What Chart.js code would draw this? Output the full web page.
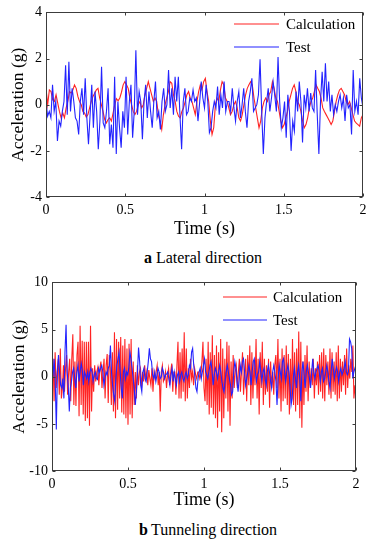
<!DOCTYPE html>
<html><head><meta charset="utf-8">
<script src="https://cdn.jsdelivr.net/npm/chart.js@4/dist/chart.umd.min.js"></script>
<style>
html,body{margin:0;padding:0;background:#fff;}
body{width:373px;height:543px;position:relative;overflow:hidden;font-family:'Liberation Serif','Times New Roman',serif;}
canvas{position:absolute;left:0;}
.cap{position:absolute;font-size:16px;color:#000;white-space:nowrap;transform:translate(-50%,-50%);}
</style></head><body>
<canvas id="c1" width="373" height="240" style="top:0;width:373px;height:240px"></canvas>
<div class="cap" style="left:203px;top:258px"><b>a</b> Lateral direction</div>
<canvas id="c2" width="373" height="243" style="top:270px;width:373px;height:243px"></canvas>
<div class="cap" style="left:208px;top:530px"><b>b</b>&#8201;Tunneling direction</div>
<script>
const timeSpan = [0, 2];
const xTickValues = [0, 0.5, 1, 1.5, 2];
const yTicksLateral = [-4, -2, 0, 2, 4];
const yTicksTunnel = [-10, -5, 0, 5, 10];
const seriesNames = ['Calculation', 'Test'];
const xTitle = 'Time (s)';
const yTitle = 'Acceleration (g)';

const lateralCalc = [0.71,0,0.64,0.57,0.21,0.14,0.43,0.07,-0.29,-0.57,-0.36,-0.57,-0.14,0.14,0.57,0.5,0.64,0.86,0.71,0.36,
0.14,0,-0.29,-0.36,-0.54,-0.43,-0.14,0.14,0.36,0.5,0.64,0.71,0.29,0,-0.29,-0.64,-0.79,-0.64,-0.57,-0.71,
-0.36,0,0.26,0.17,0.29,0.54,0.86,1.0,0.86,
0.71,0.29,0,-0.29,-0.43,-0.29,0,0.14,-0.14,0,0.43,0.71,1.0,0.71,0.43,0.14,0.29,0.14,-0.43,-0.71,
-1.07,-0.43,0,0.29,0.57,1.0,0.93,0.43,0.14,-0.29,-0.5,-0.57,-0.29,-0.14,0.14,0.43,0.57,0.29,0.14,-0.14,
-0.43,0.14,0.57,0.86,0.64,1.0,1.14,0.57,0.14,-0.71,-1.29,-1.0,0,0.29,0.14,0.64,1.0,0.86,0.29,0.14,
-0.14,-0.43,-0.29,0,0.14,-0.14,-0.57,-0.71,-0.43,0,0.43,0.71,0.86,1.0,0.86,0.29,-0.14,-0.57,-1.0,-0.71,
-0.14,0.14,0.29,0.14,0.43,0.57,1.0,0.71,0.29,0.14,-0.29,-0.71,-1.0,-0.86,-0.57,-0.29,0.14,0.43,0.71,0.86,
0.57,0.14,0,-0.29,-0.71,-1.0,-0.86,-0.57,-0.14,0.14,0.29,0.57,0.86,0.71,0.57,0.29,-0.14,-0.29,-0.43,-0.57,
-0.71,-0.86,-0.71,-0.29,0.14,0.43,0.64,0.71,0.57,0.43,0.14,0,0.14,-0.14,-0.43,-0.71,-0.8,-0.86,-0.93,-0.57,-0.43];

const lateralTest = [0.14,-0.5,-0.29,-0.57,0.86,-0.29,0.14,-1.57,-0.71,-0.93,
-0.29,0.14,1.71,-0.43,1.86,-0.29,0.71,0.14,-0.57,-0.71,
-1.29,0.14,0.71,-0.43,1.14,-0.57,-1.71,-0.43,0.86,-1.0,
0.57,-0.29,-1.93,-0.71,1.64,-0.79,-1.0,-0.29,0.71,-1.71,
-0.86,-1.86,1.21,-2.14,0.14,-1.0,-1.86,-0.29,-1.0,1.21,
-1.29,0.14,0.86,-1.43,-0.3,2.36,-0.43,0.57,0.14,-1.5,
0.14,0.86,-0.57,0.57,-0.29,-1.0,0.14,1.0,-0.57,-0.29,
-1.07,0.14,0.71,-0.29,0,1.5,-0.14,0.71,-0.43,1.21,
0.14,1.21,-0.5,-1.93,0.14,0.71,-0.43,-0.29,0.29,0.14,
0.64,0.14,0.29,-0.71,0.07,1.0,0.29,-0.14,0.86,0.14,
-1.21,-1.0,-0.29,0.14,-0.14,0.79,-0.43,0.43,-0.14,1.0,
-0.29,0.14,0.14,-0.29,0.71,-0.14,-0.71,0.14,0.57,-0.57,
0,0.71,-0.29,-1.0,0.14,0.57,1.14,-0.29,-0.14,0,
0.43,1.97,-0.29,-2.14,-0.57,0.14,0.71,-0.29,0.29,1.0,
0.4,-0.29,2.07,0.14,-1.0,-0.57,0.14,-1.43,0.43,
-0.29,-2.0,-0.71,-1.14,0.57,-0.29,1.0,0.14,-1.64,0.43,
-0.14,0.71,-0.29,0.5,-0.14,-0.29,1.5,-0.43,-2.14,0.14,
1.43,0.14,1.79,0.14,1.0,-0.29,0.43,-0.43,0,-0.29,
0.14,0.43,-0.14,0.29,-0.71,0.43,-0.14,0,-1.29,1.5,
-0.29,0.14,-0.43,1.14,0.29,-0.14];

const tunnelCalc = [-0.5,1.9,-2.6,2.6,-1.2,0.5,1.9,-1.9,3.0,-2.3,-1.2,1.2,-1.6,0.9,2.3,-1.9,0.5,1.9,-2.6,1.9,
4.5,-3.0,1.6,-3.1,2.3,3.7,-4.2,5.4,-3.0,3.8,-4.0,3.7,-4.7,3.7,-4.4,3.7,-5.2,5.4,-3.7,0.9,
-1.6,1.2,-0.5,0.5,1.0,-0.9,0.9,1.6,-1.2,0.5,1.9,-2.3,1.2,2.4,-2.8,2.3,0.9,-3.0,2.6,-3.7,
4.7,-4.4,4.0,-3.5,3.7,-2.3,4.2,-3.8,3.3,-4.0,4.0,-4.4,3.0,-5.1,3.5,-4.0,4.0,-4.4,1.6,-3.0,
0.5,-2.3,1.2,-0.9,0.5,0.9,-1.2,0.5,-0.5,1.2,-0.2,0.5,-0.9,0.7,-0.2,-0.9,0.9,-1.6,0.5,-0.2,
0.5,1.2,-0.9,0.5,-3.7,0.5,1.2,-0.5,-0.2,0.5,-1.2,0.2,0.9,-0.9,0.5,1.4,-1.6,0.5,0.5,-1.9,
1.2,3.7,-2.3,2.6,-2.3,3.0,-1.6,4.7,-2.6,3.0,-2.3,0.9,-1.2,1.9,-0.2,0.5,-0.9,0.9,0.2,-0.2,
0.5,0.5,-0.2,0.2,1.6,3.7,-1.2,-2.6,1.9,-3.0,3.7,-4.0,2.6,-3.3,4.4,-4.0,2.3,-4.4,3.3,-5.4,
2.6,-3.7,4.0,-5.9,3.0,-4.4,1.9,-2.3,3.7,-3.7,3.3,-5.2,1.6,-2.3,2.3,-1.2,0.5,1.2,-1.2,0.5,
1.9,-1.6,0.5,2.6,-1.9,0.2,1.9,-2.6,2.3,-0.9,3.3,-3.0,2.6,-2.3,1.6,-0.9,4.0,-2.3,1.9,-4.0,
2.6,-1.2,3.7,-3.0,1.9,-1.9,1.2,-1.6,1.9,-3.3,1.6,-1.2,0.5,-1.9,1.2,2.3,-1.2,4.0,-2.3,1.9,
-3.7,3.0,-2.6,2.3,-2.3,3.3,-3.0,2.4,-4.0,1.9,-2.8,4.0,-3.0,2.6,-3.7,3.0,-3.0,4.8,-4.4,3.7,
-5.4,1.6,-3.0,2.3,-1.6,3.3,-2.6,1.6,-1.2,0.9,-0.9,1.9,-2.3,0.9,-0.9,1.6,-1.9,2.3,-1.6,2.6,
-2.3,3.0,-2.6,2.3,-0.9,1.6,-1.9,3.0,-2.3,2.6,-1.6,1.6,-1.9,2.6,-2.6,3.3,-2.3,1.9,-1.6,1.6,
-0.9,2.3,-1.9,3.0,-1.2,1.2,-0.2,1.9,0.5,3.3,-2.3,-0.9,-2.6];

const tunnelTest = [-0.5,0.2,1.9,-0.5,-5.6,0.5,2.3,0.5,-0.9,-1.2,-0.2,-2.3,2.6,5.5,0.5,-0.9,-3.7,-1.2,-0.5,0.5,
0.9,-0.2,-1.2,0.5,1.2,-0.5,0.5,1.4,0.7,-0.9,0.5,0.2,-0.2,0.5,-0.5,0.5,0.9,0.5,-0.5,0.2,
0.5,-0.2,-0.3,0.9,0.5,0.9,1.2,0.5,-0.9,-0.2,0.5,0.2,0.9,1.2,3.3,0.5,-0.9,-1.9,-2.6,-0.2,
1.2,1.9,2.6,0.5,-1.2,-2.3,0.5,0.9,-0.2,0.5,0.2,0.9,2.6,1.9,0.9,-0.2,-1.2,-3.0,-1.6,0.5,
3.1,1.6,-0.9,-1.6,0.5,0.9,-0.2,-0.5,0.5,1.6,3.0,1.9,1.6,0.2,-0.2,0.5,-0.5,0.2,0.9,0.5,
-0.2,0,0.9,0.5,-0.2,0.2,0.3,0.5,-0.2,-0.9,0.2,0.9,-0.5,0.5,-0.2,-0.9,0.2,0.5,-0.5,0.2,
0.5,-0.2,-0.5,0.2,0.5,-0.2,0.2,1.2,0.9,2.6,3.0,1.2,0.2,-1.2,-1.6,-0.2,0.5,0.9,-0.2,0.5,
1.2,1.9,0.5,0.2,-0.2,0.5,1.2,1.6,0.5,-0.9,0.2,0.9,0.5,-0.2,0.5,1.2,0.5,-0.5,-1.2,-1.6,
-0.5,0.5,1.2,0.5,-0.2,-0.9,-1.9,-1.6,0.5,1.6,0.9,-0.5,-1.6,-0.2,1.2,0.5,1.6,1.9,0.5,-0.9,
-0.2,0.5,1.2,0.5,-0.9,0.5,1.6,1.9,0.5,-0.5,0.2,0.5,1.6,0.5,-0.5,0.5,0.9,-0.2,-0.9,0.5,
1.2,0.5,-0.5,-1.2,0.5,1.2,0.5,-0.5,-3.0,-0.2,1.2,0.5,-0.2,1.6,1.9,0.5,-0.5,0.5,1.2,0.5,
-0.9,-3.0,-2.3,-0.2,0.9,-0.2,-1.2,0.5,1.2,-0.2,-2.6,0.5,1.6,0.2,-1.2,0.5,1.2,0.5,-0.2,-1.2,
0.5,1.9,0.5,-0.2,0.5,0.9,1.2,0.5,-0.5,0.5,0.9,-0.5,-0.2,0.5,1.2,0.5,-0.5,-1.2,0.5,1.9,
0.9,-0.2,0.5,1.0,0.5,-0.5,0.5,0.9,0.2,0.5,0.9,1.6,0.5,0.2,0.5,4.0,3.7,3.0,-0.2,0.5,
0.9,0.5];

const FONT = "'Liberation Serif', 'Times New Roman', serif";
const RED = 'rgb(255,35,35)';
const BLUE = 'rgb(35,35,255)';

function toPoints(vals) {
  const n = vals.length;
  return vals.map((v, i) => ({ x: timeSpan[0] + (timeSpan[1] - timeSpan[0]) * i / (n - 1), y: v }));
}

const boxPlugin = {
  id: 'matlabBox',
  afterDatasetsDraw(chart, args, opts) {
    const { ctx, chartArea: a } = chart;
    const x = chart.scales.x, y = chart.scales.y;
    ctx.save();
    ctx.strokeStyle = '#3c3c3c';
    ctx.lineWidth = 1;
    const L = Math.round(a.left) + 0.5, R = Math.round(a.right) - 0.5;
    const T = Math.round(a.top) + 0.5, B = Math.round(a.bottom) - 0.5;
    ctx.strokeRect(L, T, R - L, B - T);
    ctx.beginPath();
    x.ticks.forEach(t => {
      const px = Math.round(x.getPixelForValue(t.value)) + 0.5;
      ctx.moveTo(px, B); ctx.lineTo(px, B - 3);
      ctx.moveTo(px, T); ctx.lineTo(px, T + 3);
    });
    y.ticks.forEach(t => {
      const py = Math.round(y.getPixelForValue(t.value)) + 0.5;
      ctx.moveTo(L, py); ctx.lineTo(L + 3, py);
      ctx.moveTo(R, py); ctx.lineTo(R - 3, py);
    });
    ctx.stroke();
    const lg = opts.legend;
    ctx.font = '15px ' + FONT;
    ctx.textBaseline = 'middle';
    ctx.textAlign = 'left';
    seriesNames.forEach((name, i) => {
      const ds = chart.data.datasets.find(d => d.label === name);
      const yy = lg.rows[i];
      ctx.strokeStyle = ds.borderColor;
      ctx.lineWidth = 1.2;
      ctx.beginPath();
      ctx.moveTo(lg.x0, yy); ctx.lineTo(lg.x1, yy);
      ctx.stroke();
      ctx.fillStyle = '#000';
      ctx.fillText(name, lg.tx, yy + 1);
    });
    ctx.restore();
  }
};

function makeChart(id, calc, test, yTicks, geo) {
  return new Chart(document.getElementById(id), {
    type: 'line',
    data: {
      datasets: [
        { label: seriesNames[0], data: toPoints(calc), borderColor: RED, borderWidth: 1.1, pointRadius: 0, tension: 0, order: 1 },
        { label: seriesNames[1], data: toPoints(test), borderColor: BLUE, borderWidth: 1.1, pointRadius: 0, tension: 0, order: 0 }
      ]
    },
    options: {
      responsive: false,
      animation: false,
      devicePixelRatio: 1,
      layout: { padding: geo.padding },
      plugins: {
        legend: { display: false },
        tooltip: { enabled: false },
        matlabBox: { legend: geo.legend }
      },
      scales: {
        x: {
          type: 'linear',
          min: timeSpan[0], max: timeSpan[1],
          grid: { display: false, drawTicks: false },
          border: { display: false },
          afterBuildTicks: s => { s.ticks = xTickValues.map(v => ({ value: v })); },
          afterFit: s => { s.height = geo.xh; },
          ticks: { font: { family: FONT, size: 14 }, color: '#000', padding: 5, maxRotation: 0, callback: v => String(v) },
          title: { display: true, text: xTitle, font: { family: FONT, size: 18 }, color: '#000', padding: { top: 0, bottom: geo.xtpb } }
        },
        y: {
          min: yTicks[0], max: yTicks[yTicks.length - 1],
          grid: { display: false, drawTicks: false },
          border: { display: false },
          afterBuildTicks: s => { s.ticks = yTicks.map(v => ({ value: v })); },
          afterFit: s => { s.width = geo.yw; },
          ticks: { font: { family: FONT, size: 14 }, color: '#000', padding: 4, callback: v => String(v) },
          title: { display: true, text: yTitle, font: { family: FONT, size: 17.5 }, color: '#000', padding: { top: geo.ytpt, bottom: 0 } }
        }
      }
    },
    plugins: [boxPlugin]
  });
}

makeChart('c1', lateralCalc, lateralTest, yTicksLateral, {
  padding: { top: 10, right: 10, left: 0, bottom: 0 }, xh: 43, yw: 46, xtpb: 0, ytpt: 8,
  legend: { x0: 234, x1: 279, tx: 286, rows: [24, 47] }
});
makeChart('c2', tunnelCalc, tunnelTest, yTicksTunnel, {
  padding: { top: 9, right: 17, left: 0, bottom: 0 }, xh: 42, yw: 52, xtpb: 2, ytpt: 9,
  legend: { x0: 223, x1: 267, tx: 273, rows: [27, 50] }
});
</script>
</body></html>
